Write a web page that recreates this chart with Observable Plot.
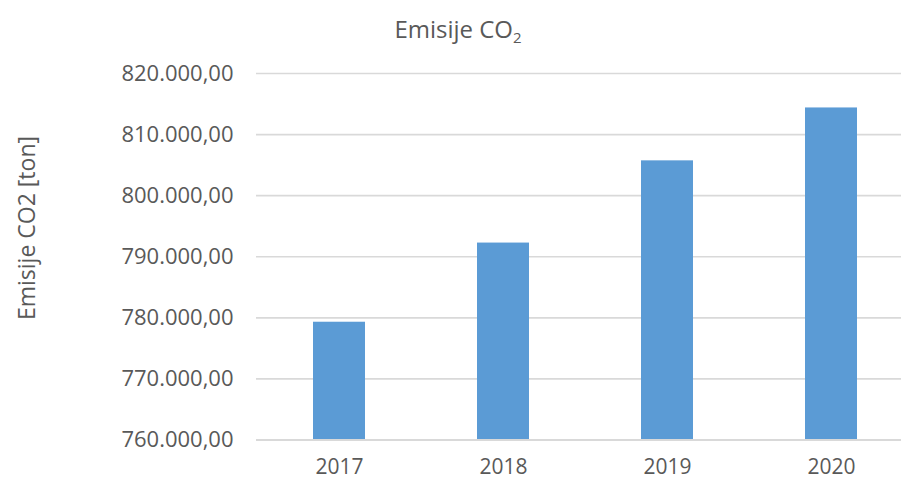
<!DOCTYPE html>
<html>
<head>
<meta charset="utf-8">
<script src="https://cdn.jsdelivr.net/npm/d3@7"></script>
<script src="https://cdn.jsdelivr.net/npm/@observablehq/plot@0.6"></script>
<style>
  html, body { margin: 0; padding: 0; background: #fff; }
  #wrap { position: relative; width: 901px; height: 481px; overflow: hidden; }
  #title { position: absolute; left: 0; width: 916px; top: 17px; text-align: center;
           font-family: "Open Sans", sans-serif; font-size: 24px; color: #595959; line-height: 1; }
  #title sub { font-size: 15px; vertical-align: -5px; line-height: 0; }
  #ylab { position: absolute; left: 26px; top: 228px; transform: translate(-50%, -50%) rotate(-90deg);
          white-space: nowrap; font-family: "Open Sans", sans-serif; font-size: 23px; color: #595959; }
</style>
</head>
<body>
<div id="wrap">
  <div id="title">Emisije CO<sub>2</sub></div>
  <div id="ylab">Emisije CO2 [ton]</div>
</div>
<script>
const years = ["2017", "2018", "2019", "2020"];
const emissions = [779280, 792240, 805700, 814360];
const yTicks = [760000, 770000, 780000, 790000, 800000, 810000, 820000];

const data = years.map((y, i) => ({year: y, value: emissions[i]}));
const fmt = v => d3.format(",.2f")(v).replace(/,/g, "#").replace(/\./g, ",").replace(/#/g, ".");

const chart = Plot.plot({
  width: 901,
  height: 481,
  marginTop: 73,
  marginBottom: 41.5,
  marginLeft: 256,
  marginRight: 0,
  style: {fontFamily: "Open Sans, sans-serif", fontSize: "22px", color: "#595959", background: "transparent", overflow: "visible"},
  x: {domain: years, range: [256, 914], paddingInner: 0.684, paddingOuter: 0.342, label: null},
  y: {domain: [760000, 820000], label: null},
  marks: [
    Plot.gridY(yTicks.slice(1), {stroke: "#d9d9d9", strokeOpacity: 1, strokeWidth: 1.6}),
    Plot.barY(data, {x: "year", y1: 760000, y2: "value", fill: "#5b9bd5"}),
    Plot.ruleY([760000], {stroke: "#d9d9d9", strokeWidth: 1.8}),
    Plot.axisY({ticks: yTicks, tickFormat: fmt, tickSize: 0, tickPadding: 23, fill: "#595959", fontSize: 22}),
    Plot.axisX({tickSize: 0, tickPadding: 19, fill: "#595959", fontSize: 21})
  ]
});
chart.style.position = "absolute";
chart.style.left = "0";
chart.style.top = "0";
document.getElementById("wrap").appendChild(chart);
</script>
</body>
</html>
